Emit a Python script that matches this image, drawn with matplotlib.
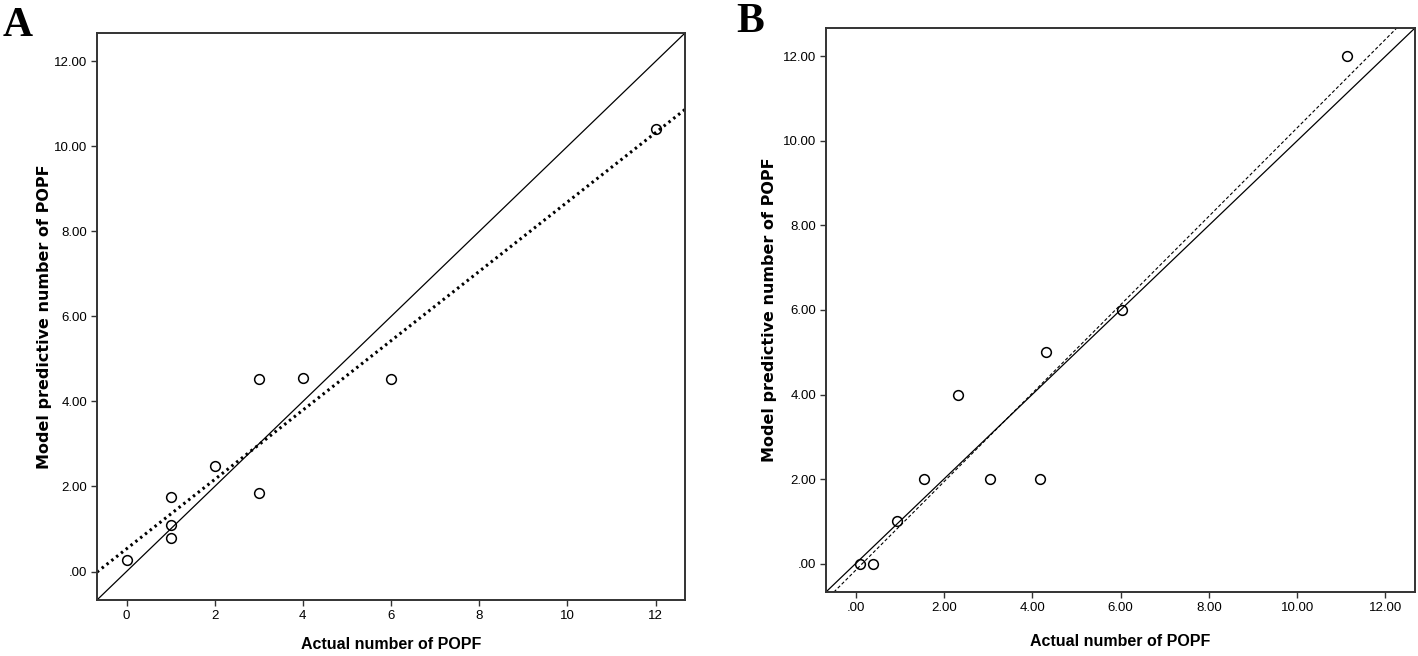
import numpy as np
import matplotlib
matplotlib.use("Agg")
import matplotlib.pyplot as plt
from matplotlib.ticker import FuncFormatter

# Panel A: actual vs predicted
a_actual = [0, 1, 1, 1, 2, 3, 3, 4, 6, 12]
a_pred = [0.28, 1.76, 1.10, 0.78, 2.49, 4.52, 1.84, 4.56, 4.53, 10.4]
a_xticks = [0, 2, 4, 6, 8, 10, 12]
a_yticks = [0, 2, 4, 6, 8, 10, 12]

# Panel B
b_actual = [0.09, 0.39, 0.94, 1.56, 2.32, 3.04, 4.17, 4.32, 6.03, 11.14]
b_pred = [0, 0, 1, 2, 4, 2, 2, 5, 6, 12]
b_xticks = [0, 2, 4, 6, 8, 10, 12]
b_yticks = [0, 2, 4, 6, 8, 10, 12]

lims = (-0.67, 12.67)
narrow = ['Liberation Sans', 'DejaVu Sans']
spss_fmt = FuncFormatter(lambda v, p: f'{v:.2f}'.replace('0.', '.', 1) if abs(v) < 1 else f'{v:.2f}')

fig = plt.figure(figsize=(14.18, 6.56), dpi=100)
axA = fig.add_axes([0.0684, 0.0854, 0.4147, 0.8643])
axB = fig.add_axes([0.5825, 0.0976, 0.4154, 0.8598])


def style_axis(ax, ylab_x, xlab_y):
    ax.set_xlim(*lims)
    ax.set_ylim(*lims)
    for s in ax.spines.values():
        s.set_linewidth(1.4)
        s.set_color('#333333')
    ax.tick_params(direction='out', length=4, width=1, color='#333333',
                   top=False, right=False, labelsize=9.5, pad=3)
    for lbl in ax.get_xticklabels() + ax.get_yticklabels():
        lbl.set_family(narrow)
    ax.set_ylabel('Model predictive number of POPF', fontsize=11.5,
                  fontweight='bold', family='DejaVu Sans')
    ax.set_xlabel('Actual number of POPF', fontsize=11.5, fontweight='bold',
                  family=narrow)
    ax.yaxis.set_label_coords(ylab_x, 0.5)
    ax.xaxis.set_label_coords(0.5, xlab_y)


xs = np.array(lims)

# ---- A ----
axA.plot(xs, xs, color='black', lw=0.9)
slope, icpt = np.polyfit(a_actual, a_pred, 1)
axA.plot(xs, slope * xs + icpt, color='black', lw=2.2, ls=(0, (0.8, 1.2)))
axA.plot(a_actual, a_pred, 'o', mfc='none', mec='black', ms=7, mew=1.1)
axA.set_xticks(a_xticks)
axA.set_yticks(a_yticks)
axA.yaxis.set_major_formatter(spss_fmt)
style_axis(axA, -0.0765, -0.066)

# ---- B ----
axB.plot(xs, xs, color='black', lw=0.9)
slope, icpt = np.polyfit(b_actual, b_pred, 1)
axB.plot(xs, slope * xs + icpt, color='black', lw=0.8, ls=(0, (3, 2)))
axB.plot(b_actual, b_pred, 'o', mfc='none', mec='black', ms=7, mew=1.1)
axB.set_xticks(b_xticks)
axB.set_yticks(b_yticks)
axB.xaxis.set_major_formatter(spss_fmt)
axB.yaxis.set_major_formatter(spss_fmt)
style_axis(axB, -0.083, -0.074)

fig.text(0.002, 0.99, 'A', fontsize=30, fontweight='bold',
         family='Liberation Serif', ha='left', va='top')
fig.text(0.519, 0.995, 'B', fontsize=30, fontweight='bold',
         family='Liberation Serif', ha='left', va='top')

fig.savefig('out.png', dpi=100)
